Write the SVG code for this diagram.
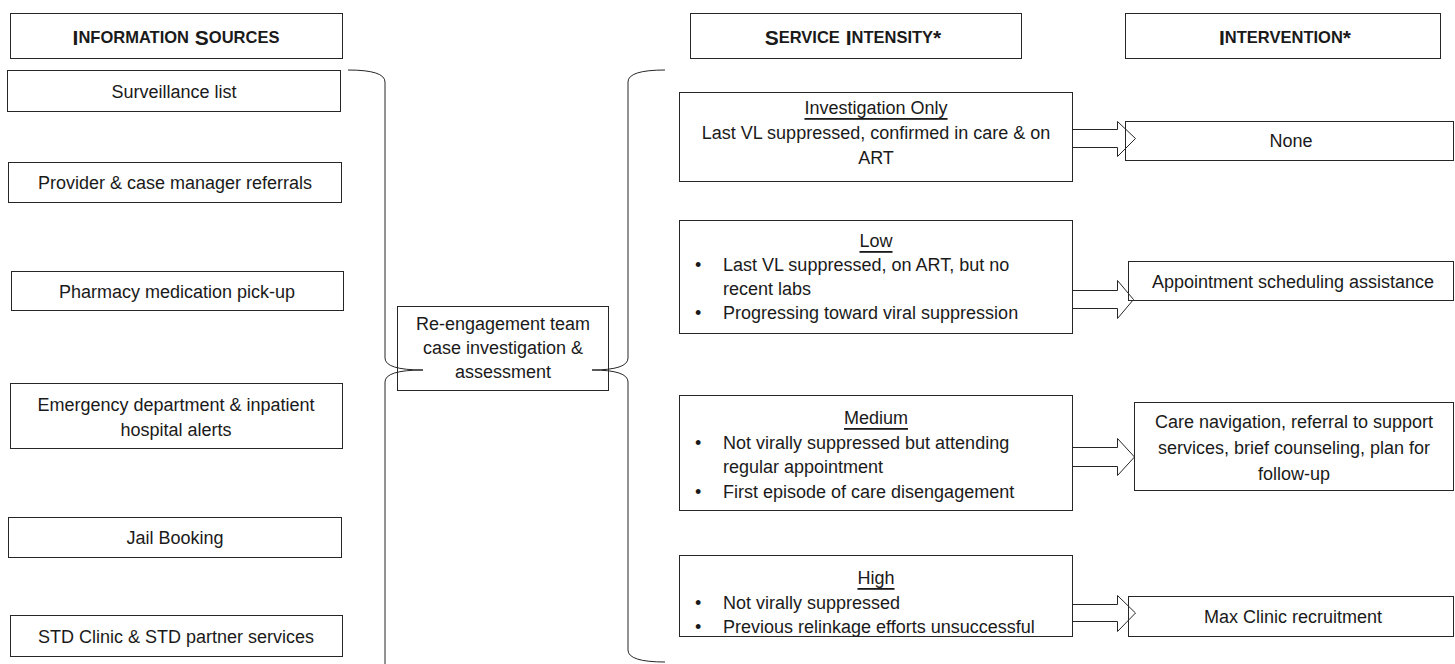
<svg xmlns="http://www.w3.org/2000/svg" width="1455" height="664" viewBox="0 0 1455 664">
<style>
  .box { fill: #ffffff; stroke: #262626; stroke-width: 1; }
  .t { font-family: "Liberation Sans", Arial, sans-serif; font-size: 18px; fill: #1a1a1a; text-anchor: middle; dominant-baseline: central; }
  .l { font-family: "Liberation Sans", Arial, sans-serif; font-size: 18px; fill: #1a1a1a; text-anchor: start; dominant-baseline: central; }
  .h { font-family: "Liberation Sans", Arial, sans-serif; font-weight: bold; font-size: 21px; fill: #1a1a1a; text-anchor: middle; dominant-baseline: central; }
  .sc { font-size: 16.5px; }
  .u { text-decoration: underline; }
  .con { fill: none; stroke: #262626; stroke-width: 1; }
</style>
<rect width="1455" height="664" fill="#ffffff"/>

<g id="hdr-sources"><rect class="box" x="10.5" y="13.5" width="332" height="45"/><text class="h" x="176" y="37">I<tspan class="sc">NFORMATION</tspan> S<tspan class="sc">OURCES</tspan></text></g>
<g id="hdr-intensity"><rect class="box" x="690.5" y="13.5" width="331" height="45"/><text class="h" x="853" y="37">S<tspan class="sc">ERVICE</tspan> I<tspan class="sc">NTENSITY</tspan>*</text></g>
<g id="hdr-intervention"><rect class="box" x="1125.5" y="13.5" width="315" height="45"/><text class="h" x="1285" y="37">I<tspan class="sc">NTERVENTION</tspan>*</text></g>

<g id="src-surveillance"><rect class="box" x="7.5" y="70.5" width="333" height="41"/><text class="t" x="174" y="92">Surveillance list</text></g>
<g id="src-provider"><rect class="box" x="8.5" y="162.5" width="333" height="40"/><text class="t" x="175" y="183">Provider &amp; case manager referrals</text></g>
<g id="src-pharmacy"><rect class="box" x="11.5" y="271.5" width="332" height="39"/><text class="t" x="177" y="292">Pharmacy medication pick-up</text></g>
<g id="src-emergency"><rect class="box" x="10.5" y="383.5" width="332" height="65"/><text class="t" x="176" y="405">Emergency department &amp; inpatient</text><text class="t" x="176" y="430">hospital alerts</text></g>
<g id="src-jail"><rect class="box" x="8.5" y="517.5" width="333" height="40"/><text class="t" x="175" y="538">Jail Booking</text></g>
<g id="src-std"><rect class="box" x="10.5" y="615.5" width="332" height="41"/><text class="t" x="176" y="637">STD Clinic &amp; STD partner services</text></g>

<g id="reengagement"><rect class="box" x="397.5" y="306.5" width="211" height="84"/><text class="t" x="503" y="324">Re-engagement team</text><text class="t" x="503" y="348">case investigation &amp;</text><text class="t" x="503" y="372">assessment</text></g>

<g id="int-investigation"><rect class="box" x="679.5" y="92.5" width="393" height="89"/>
<text class="t u" x="876" y="108">Investigation Only</text>
<text class="t" x="876" y="133">Last VL suppressed, confirmed in care &amp; on</text>
<text class="t" x="876" y="158">ART</text></g>

<g id="int-low"><rect class="box" x="679.5" y="220.5" width="393" height="113"/>
<text class="t u" x="876" y="241">Low</text>
<text class="l" x="695" y="265">•</text><text class="l" x="723" y="265">Last VL suppressed, on ART, but no</text>
<text class="l" x="723" y="289">recent labs</text>
<text class="l" x="695" y="313">•</text><text class="l" x="723" y="313">Progressing toward viral suppression</text></g>

<g id="int-medium"><rect class="box" x="679.5" y="395.5" width="393" height="115"/>
<text class="t u" x="876" y="418">Medium</text>
<text class="l" x="695" y="443">•</text><text class="l" x="723" y="443">Not virally suppressed but attending</text>
<text class="l" x="723" y="467">regular appointment</text>
<text class="l" x="695" y="492">•</text><text class="l" x="723" y="492">First episode of care disengagement</text></g>

<g id="int-high"><rect class="box" x="679.5" y="555.5" width="393" height="81"/>
<text class="t u" x="876" y="578">High</text>
<text class="l" x="695" y="603">•</text><text class="l" x="723" y="603">Not virally suppressed</text>
<text class="l" x="695" y="627">•</text><text class="l" x="723" y="627">Previous relinkage efforts unsuccessful</text></g>

<g id="iv-none"><rect class="box" x="1125.5" y="121.5" width="328" height="39"/><text class="t" x="1291" y="141">None</text></g>
<g id="iv-appointment"><rect class="box" x="1128.5" y="261.5" width="325" height="39"/><text class="t" x="1293" y="282">Appointment scheduling assistance</text></g>
<g id="iv-care"><rect class="box" x="1134.5" y="402.5" width="319" height="88"/><text class="t" x="1294" y="422">Care navigation, referral to support</text><text class="t" x="1294" y="448">services, brief counseling, plan for</text><text class="t" x="1294" y="474">follow-up</text></g>
<g id="iv-max"><rect class="box" x="1128.5" y="596.5" width="325" height="40"/><text class="t" x="1293" y="617">Max Clinic recruitment</text></g>

<g id="connectors">
  <path class="con" d="M348,70 Q385,70 385,82 L385,358 Q385,370 423,370 Q385,370 385,382 L385,664"/>
  <path class="con" d="M665,70 Q628,70 628,82 L628,358 Q628,370 592,370 Q628,370 628,382 L628,650 Q628,662 665,662"/>
  <path class="con" d="M1072.5,129.5 H1117.5 V121.5 L1135.5,138.5 L1117.5,156.5 V147.5 H1072.5"/>
  <path class="con" d="M1072.5,290.5 H1117.5 V280.5 L1133.5,299.5 L1117.5,318.5 V308.5 H1072.5"/>
  <path class="con" d="M1072.5,447.5 H1117.5 V438.5 L1134.5,457 L1117.5,475.5 V466.5 H1072.5"/>
  <path class="con" d="M1072.5,604.5 H1117.5 V595.5 L1135.5,613 L1117.5,631.5 V621.5 H1072.5"/>
</g>
</svg>
